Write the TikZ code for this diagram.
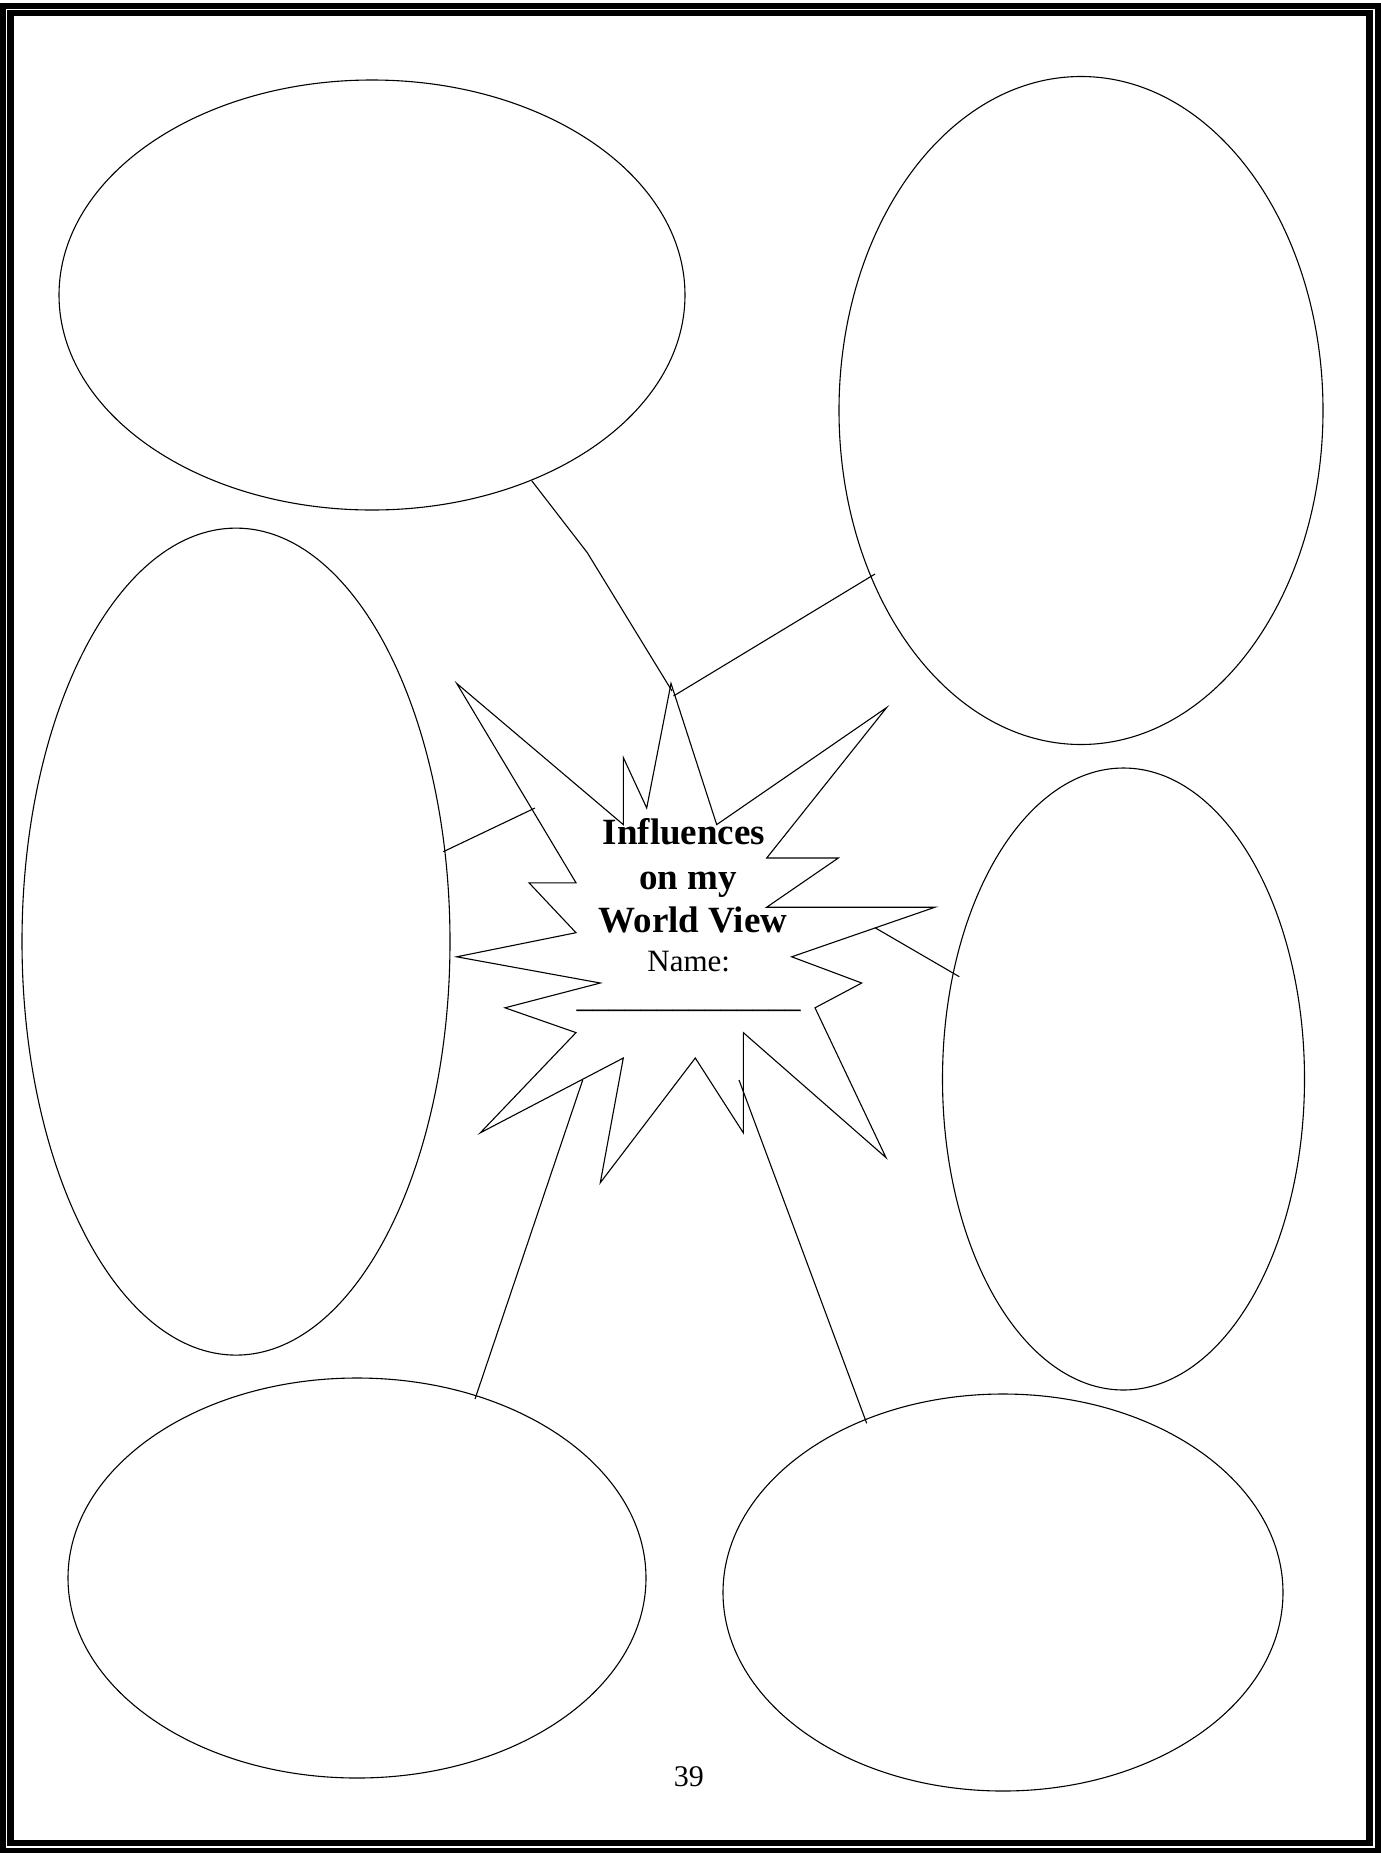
\documentclass[tikz,border=0pt]{standalone}
\usepackage{fontspec}
\setmainfont{Liberation Serif}
\usetikzlibrary{shapes.geometric}
\begin{document}
\begin{tikzpicture}[x=1pt,y=-1pt,
  bubble/.style={draw, ellipse, line width=1.1pt, inner sep=0pt, outer sep=0pt},
  link/.style={draw, line width=1.1pt},
  burst/.style={draw, line width=1.1pt, line join=miter, miter limit=20},
  frameout/.style={draw, line width=6pt},
  framein/.style={draw, line width=6.5pt},
  titletext/.style={font=\fontsize{37}{44}\selectfont\bfseries, anchor=base, inner sep=0pt},
  nametext/.style={font=\fontsize{31}{37}\selectfont, anchor=base, inner sep=0pt},
  linetext/.style={font=\fontsize{32}{37}\selectfont, anchor=base, inner sep=0pt},
  pagetext/.style={font=\fontsize{30}{36}\selectfont, anchor=base, inner sep=0pt}]
\useasboundingbox (0,0) rectangle (1381,1853);
\fill[white] (0,0) rectangle (1381,1853);
% page frame
\draw[frameout] (3,6) rectangle (1377.5,1850.5);
\draw[framein] (10.5,13) rectangle (1369.5,1843);
% ellipses
\node[bubble, minimum width=626pt, minimum height=430pt] (e1) at (372,295) {};
\node[bubble, minimum width=484pt, minimum height=668pt] (e2) at (1081,410.5) {};
\node[bubble, minimum width=428pt, minimum height=827pt] (e3) at (236,941.6) {};
\node[bubble, minimum width=362pt, minimum height=622pt] (e4) at (1123.5,1079) {};
\node[bubble, minimum width=578pt, minimum height=400pt] (e5) at (357,1578) {};
\node[bubble, minimum width=560pt, minimum height=397pt] (e6) at (1003,1592.5) {};
% burst star
\draw[burst] (671,683.4) -- (716.7,824.6) -- (886.7,707.5) -- (766.7,858) -- (838.3,858)
  -- (766.7,907.2) -- (935,907.2) -- (791.7,956.8) -- (861.7,983) -- (815,1007.8)
  -- (886,1157.6) -- (743.3,1032.6) -- (743.3,1132.8) -- (695.3,1058) -- (600.3,1182.7)
  -- (623.3,1058) -- (480.3,1132.8) -- (576,1032.6) -- (505,1007.8) -- (600.3,983)
  -- (456.7,956.8) -- (576,932.7) -- (529,882.8) -- (576,882.8) -- (456.7,683.4)
  -- (623.3,824.6) -- (623.3,757.5) -- (646.7,808) -- cycle;
% connector end points
\coordinate (s1) at (531.7,480.7);
\coordinate (k1) at (587.3,552.7);
\coordinate (t1) at (672,691);
\coordinate (s2) at (875,574);
\coordinate (t2) at (673.5,696);
\coordinate (s3) at (443.3,851.7);
\coordinate (t3) at (535,808);
\coordinate (s4) at (959.3,976.7);
\coordinate (t4) at (875,927.7);
\coordinate (t5) at (582.7,1080);
\coordinate (s5) at (475,1399);
\coordinate (t6) at (739,1080);
\coordinate (s6) at (866.7,1423.3);
\draw[link] (s1) -- (k1) -- (t1);
\draw[link] (s2) -- (t2);
\draw[link] (s3) -- (t3);
\draw[link] (s4) -- (t4);
\draw[link] (t5) -- (s5);
\draw[link] (t6) -- (s6);
% texts
\node[titletext] (l1) at (684,844) {Influences};
\node[titletext] (l2) at (688,889) {on my};
\node[titletext] (l3) at (693,932) {World View};
\node[nametext] (l4) at (688.7,971.6) {Name:};
\node[linetext] (l5) at (688.7,1007) {\_\_\_\_\_\_\_\_\_\_\_\_\_\_};
\node[pagetext] (pg) at (688.8,1786) {39};
\end{tikzpicture}
\end{document}
